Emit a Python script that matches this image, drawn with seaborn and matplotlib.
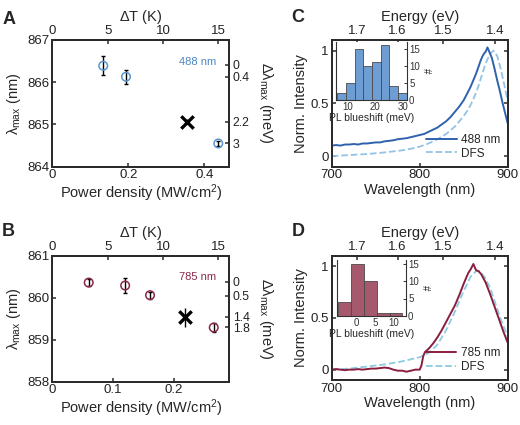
import numpy as np
import pandas as pd
import matplotlib
matplotlib.use("Agg")
import matplotlib.pyplot as plt
import seaborn as sns

sns.set_theme(style="ticks")
plt.rcParams['font.family'] = ['Liberation Sans', 'DejaVu Sans']
plt.rcParams['mathtext.fontset'] = 'custom'
plt.rcParams['mathtext.rm'] = 'Liberation Sans'
plt.rcParams['mathtext.it'] = 'Liberation Sans'
plt.rcParams['mathtext.default'] = 'regular'

# ---------------- data ----------------
# Panel A (488 nm)
A_power = [0.134, 0.194, 0.437]
A_lam = [866.39, 866.13, 864.55]
A_err = [0.22, 0.17, 0.05]
A_x_power = [0.354]
A_x_lam = [865.06]
A_x_err = [0.06]
A_shift_pos = [866.41, 866.13, 865.06, 864.55]
A_shift_lbl = ['0', '0.4', '2.2', '3']

# Panel B (785 nm)
B_power = [0.060, 0.120, 0.161, 0.266]
B_lam = [860.36, 860.29, 860.06, 859.29]
B_err = [0.08, 0.17, 0.08, 0.10]
B_x_power = [0.219]
B_x_lam = [859.53]
B_x_err = [0.22]
B_shift_pos = [860.38, 860.05, 859.55, 859.30]
B_shift_lbl = ['0', '0.5', '1.4', '1.8']

dT_ticks = [0, 5, 10, 15]
energy_ticks = [1.7, 1.6, 1.5, 1.4]

# Panel C spectra
C_wl = [700, 705, 710, 715, 720, 725, 730, 735, 740, 745, 750, 755, 760, 765, 770, 775,
        780, 785, 790, 795, 800, 805, 810, 815, 820, 825, 830, 835, 840, 845, 850, 855,
        858, 861, 864, 867, 869, 871, 873, 875, 877, 879, 882, 885, 888, 891, 894, 897, 900]
C_488 = [0.10, 0.105, 0.10, 0.11, 0.11, 0.115, 0.11, 0.12, 0.12, 0.125, 0.13, 0.13, 0.14, 0.145, 0.15, 0.16,
         0.165, 0.17, 0.18, 0.19, 0.20, 0.21, 0.23, 0.25, 0.27, 0.30, 0.33, 0.37, 0.42, 0.47, 0.53, 0.61,
         0.66, 0.72, 0.78, 0.85, 0.90, 0.94, 0.97, 0.99, 1.03, 0.99, 0.93, 0.83, 0.72, 0.62, 0.51, 0.41, 0.31]
C_dfs_wl = [700, 720, 740, 760, 780, 790, 800, 810, 820, 830, 840, 850, 855, 860, 865, 870,
            875, 880, 884, 888, 892, 896, 900]
C_dfs = [0.00, 0.01, 0.02, 0.035, 0.055, 0.07, 0.09, 0.12, 0.16, 0.21, 0.28, 0.38, 0.44, 0.52, 0.62, 0.75,
         0.88, 0.97, 1.00, 0.95, 0.83, 0.68, 0.52]

# Panel D spectra
D_wl = [700, 705, 710, 715, 720, 725, 730, 735, 740, 745, 750, 755, 760, 765, 770, 775, 780, 785,
        790, 795, 800, 802, 804, 806, 810, 815, 820, 825, 830, 835, 840, 845, 850, 855, 858, 861,
        864, 867, 870, 875, 880, 885, 890, 895, 900]
D_785 = [0.00, 0.005, 0.00, -0.005, 0.00, 0.00, 0.005, 0.00, 0.005, 0.01, 0.01, 0.015, 0.02, 0.015, 0.00, -0.01, -0.01, -0.02,
         -0.01, 0.00, 0.00, 0.04, 0.13, 0.17, 0.20, 0.25, 0.31, 0.38, 0.46, 0.54, 0.62, 0.72, 0.83, 0.93, 0.97, 1.02,
         0.96, 0.95, 0.92, 0.84, 0.73, 0.61, 0.49, 0.37, 0.26]
D_dfs_wl = [700, 720, 740, 760, 780, 800, 810, 820, 830, 840, 850, 858, 864, 868, 874, 880, 886, 892, 900]
D_dfs = [0.00, 0.01, 0.03, 0.05, 0.08, 0.12, 0.16, 0.24, 0.38, 0.56, 0.76, 0.90, 0.95, 0.95, 0.89, 0.79, 0.64, 0.49, 0.32]

# Inset histograms
C_bins = [6.4, 9.5, 12.6, 15.7, 18.8, 21.9, 25.0, 28.1, 31.2]
C_counts = [2, 5, 15, 10, 11, 16, 4, 2]
D_bins = [-5.0, -1.5, 2.0, 5.5, 9.0, 12.5]
D_counts = [4, 15, 10, 1, 1]

# ---------------- styling ----------------
BLUE_PT = '#5b95cf'
RED_PT = '#8c2846'
C_LINE = '#2f62ad'
C_DASH = '#93c3e6'
D_LINE = '#8b1d3d'
D_DASH = '#8ccbe3'
C_HIST = '#6d9dd3'
D_HIST = '#a6596c'
SPINE = '#2b2b2b'
TICK_FS = 9.5
LAB_FS = 10.5

fig = plt.figure(figsize=(5.2, 4.25), dpi=100)
W, H = 520, 425


def rect(x0, y0, x1, y1):
    return [x0 / W, 1 - y1 / H, (x1 - x0) / W, (y1 - y0) / H]


def style(ax, fs=TICK_FS, lw=1.3):
    for s in ax.spines.values():
        s.set_color(SPINE)
        s.set_linewidth(lw)
    ax.tick_params(direction='in', length=3, width=1.1, colors=SPINE, labelsize=fs,
                   labelcolor='#222222', pad=2)
    ax.set_facecolor('none')


def point_panel(rect_px, power, lam, err, xp, xl, xe, color, ylim, yticks, xlim, xticks,
                shift_pos, shift_lbl, tag, tagcolor):
    ax = fig.add_axes(rect(*rect_px))
    style(ax)
    ax.errorbar(power, lam, yerr=err, fmt='none', ecolor='black', elinewidth=1.0,
                capsize=1.5, capthick=1.0, zorder=3)
    sns.scatterplot(x=power, y=lam, ax=ax, marker='o', s=38, facecolor='none',
                    edgecolor=color, linewidth=1.1, zorder=4)
    ax.errorbar(xp, xl, yerr=xe, fmt='none', ecolor='black', elinewidth=1.0, zorder=3)
    sns.scatterplot(x=xp, y=xl, ax=ax, marker='x', s=80, color='black', linewidth=2.4, zorder=5)
    ax.set_xlim(*xlim)
    ax.set_ylim(*ylim)
    ax.set_xticks(xticks)
    ax.set_xticklabels([f'{t:g}' for t in xticks])
    ax.set_yticks(yticks)
    ax.set_yticklabels([f'{t:g}' for t in yticks])
    ax.set_xlabel('Power density (MW/cm$^2$)', fontsize=LAB_FS, labelpad=1)
    ax.set_ylabel(r'$\lambda_{max}$ (nm)', fontsize=LAB_FS, labelpad=3)
    ax.text(0.82, 0.83, tag, transform=ax.transAxes, color=tagcolor, fontsize=8,
            ha='center', va='center')

    axt = ax.twiny()
    style(axt)
    axt.set_xlim(0, 16)
    axt.set_xticks(dT_ticks)
    axt.set_xticklabels([str(t) for t in dT_ticks])
    axt.set_xlabel(r'$\Delta$T (K)', fontsize=LAB_FS, labelpad=3)

    axr = ax.twinx()
    style(axr, fs=8.8)
    axr.set_ylim(*ylim)
    axr.set_yticks(shift_pos)
    axr.set_yticklabels(shift_lbl)
    axr.tick_params(axis='y', pad=2.5)
    for t in axr.get_yticklabels():
        t.set_linespacing(0.8)
    axr.set_ylabel(r'$\Delta\lambda_{max}$ (meV)', fontsize=LAB_FS, rotation=270,
                   labelpad=18)
    return ax


point_panel((52.3, 40, 229.3, 166.7), A_power, A_lam, A_err, A_x_power, A_x_lam, A_x_err,
            BLUE_PT, (864, 867), [864, 865, 866, 867], (0, 0.466), [0, 0.2, 0.4],
            A_shift_pos, A_shift_lbl, '488 nm', '#4a86c5')
point_panel((52.3, 255.7, 229.3, 381.7), B_power, B_lam, B_err, B_x_power, B_x_lam, B_x_err,
            RED_PT, (858, 861), [858, 859, 860, 861], (0, 0.2916), [0, 0.1, 0.2],
            B_shift_pos, B_shift_lbl, '785 nm', '#8c2a4c')


def spec_panel(rect_px, wl, val, dwl, dval, lcolor, dcolor, lname, bins, counts, hcolor,
               inset_px, hxticks, hxlim, hylim):
    ax = fig.add_axes(rect(*rect_px))
    style(ax)
    ax.tick_params(top=False, right=True)
    sns.lineplot(x=dwl, y=dval, ax=ax, color=dcolor, linestyle='--', linewidth=1.3,
                 label='DFS', zorder=2)
    sns.lineplot(x=wl, y=val, ax=ax, color=lcolor, linewidth=1.4, label=lname, zorder=3)
    h, l = ax.get_legend_handles_labels()
    ax.legend(h[::-1], l[::-1], loc='lower right', frameon=False, fontsize=8.5,
              handlelength=2.6, borderaxespad=0.2, labelspacing=0.15, handletextpad=0.4)
    ax.set_xlim(700, 900)
    ax.set_ylim(-0.1, 1.1)
    ax.set_xticks([700, 800, 900])
    ax.set_xticklabels(['700', '800', '900'])
    ax.set_yticks([0, 0.5, 1])
    ax.set_yticklabels(['0', '0.5', '1'])
    ax.set_xlabel('Wavelength (nm)', fontsize=LAB_FS, labelpad=1)
    ax.set_ylabel('Norm. Intensity', fontsize=LAB_FS, labelpad=2)

    axt = ax.twiny()
    style(axt)
    axt.set_xlim(700, 900)
    axt.set_xticks([1239.84 / e for e in energy_ticks])
    axt.set_xticklabels([f'{e:.1f}' for e in energy_ticks])
    axt.set_xlabel('Energy (eV)', fontsize=LAB_FS, labelpad=3)

    ins = fig.add_axes(rect(*inset_px))
    centers = [(bins[i] + bins[i + 1]) / 2 for i in range(len(counts))]
    sns.histplot(x=centers, weights=counts, bins=bins, ax=ins, color=hcolor, alpha=1,
                 edgecolor='#4a4a4a', linewidth=0.6)
    ins.set_facecolor('white')
    for s in ins.spines.values():
        s.set_color('#333333')
        s.set_linewidth(0.8)
    ins.spines['top'].set_visible(False)
    ins.yaxis.tick_right()
    ins.yaxis.set_label_position('right')
    ins.tick_params(direction='in', length=2, width=0.7, labelsize=7, pad=1.5,
                    colors='#333333', labelcolor='#333333')
    ins.set_xlim(*hxlim)
    ins.set_ylim(*hylim)
    ins.set_xticks(hxticks)
    ins.set_xticklabels([str(t) for t in hxticks])
    ins.set_yticks([0, 5, 10, 15])
    ins.set_yticklabels(['0', '5', '10', '15'])
    ins.set_ylabel('#', fontsize=7, rotation=270, labelpad=8)
    ins.set_xlabel('PL blueshift (meV)', fontsize=7.5, labelpad=1)
    return ax


spec_panel((331.7, 40, 507.7, 166.7), C_wl, C_488, C_dfs_wl, C_dfs, C_LINE, C_DASH, '488 nm',
           C_bins, C_counts, C_HIST, (336, 42, 407, 100), [10, 20, 30], (6, 31.3), (0, 17))
spec_panel((331.7, 255.7, 507.7, 380), D_wl, D_785, D_dfs_wl, D_dfs, D_LINE, D_DASH, '785 nm',
           D_bins, D_counts, D_HIST, (337, 260, 406, 316), [0, 5, 10], (-5.4, 13.5), (0, 16))

for letter, (x, y) in {'A': (9, 20), 'B': (8, 231), 'C': (298, 18), 'D': (298, 231)}.items():
    fig.text(x / W, 1 - y / H, letter, fontsize=13, fontweight='bold', ha='center', va='center')

fig.savefig('out.png', dpi=100)
